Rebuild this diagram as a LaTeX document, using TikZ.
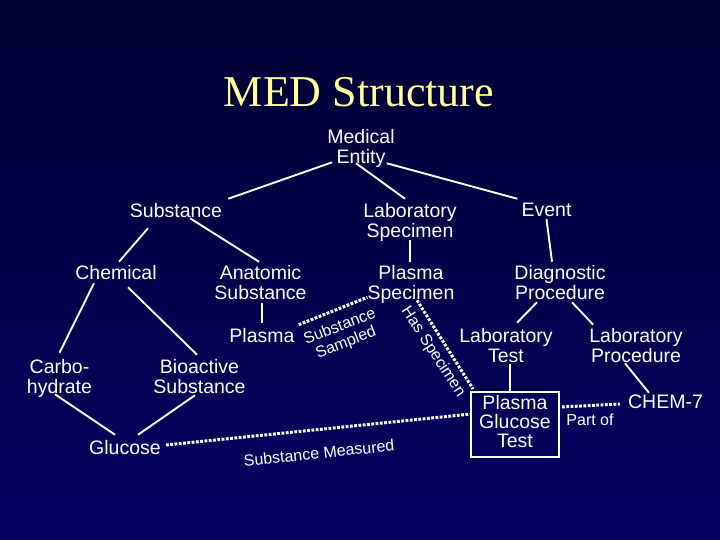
\documentclass[tikz,border=0pt]{standalone}
\usepackage{fontspec}
\setmainfont{Liberation Sans}
\newfontfamily\ttlfont{Liberation Serif}
\usetikzlibrary{calc}
\definecolor{bgtop}{RGB}{0,0,48}
\definecolor{bgbot}{RGB}{6,2,100}
\definecolor{ttlyellow}{RGB}{255,255,153}
\newcommand\msz{\fontsize{19.5}{20}\selectfont}
\newcommand\esz{\fontsize{16}{17}\selectfont}
\begin{document}
\begin{tikzpicture}[x=1pt,y=-1pt,
  lbl/.style={font=\msz, text=white, inner sep=0pt, align=center,
    execute at begin node={\strut}, execute at end node={\strut}},
  elbl/.style={font=\esz, text=white, inner sep=0pt, align=center},
  conn/.style={draw=white, line width=1.9pt},
  rel/.style={draw=white, line width=3pt, dash pattern=on 2.8pt off 1.5pt},
]
\useasboundingbox (0,0) rectangle (720,540);
\shade[top color=bgtop, bottom color=bgbot] (0,0) rectangle (720,540);

\node[font={\ttlfont\fontsize{44}{44}\selectfont}, text=ttlyellow, anchor=base, inner sep=0pt] (title) at (359,107) {MED Structure};

\node[lbl] (me) at (361,149) {Medical\\Entity};
\node[lbl] (sub) at (176,213) {Substance};
\node[lbl] (ls) at (410,223) {Laboratory\\Specimen};
\node[lbl] (ev) at (546.5,213) {Event};
\node[lbl] (ch) at (116,275) {Chemical};
\node[lbl] (an) at (260.5,285) {Anatomic\\Substance};
\node[lbl] (ps) at (411,285) {Plasma\\Specimen};
\node[lbl] (dp) at (560,285) {Diagnostic\\Procedure};
\node[lbl] (pl) at (262,338) {Plasma};
\node[lbl] (ca) at (59.5,379) {Carbo-\\hydrate};
\node[lbl] (bi) at (199.5,379) {Bioactive\\Substance};
\node[lbl] (lt) at (506,348) {Laboratory\\Test};
\node[lbl] (lp) at (636,348) {Laboratory\\Procedure};
\node[lbl] (gl) at (125,450) {Glucose};
\node[lbl, font=\fontsize{19.5}{19}\selectfont, draw=white, line width=1.9pt,
  minimum width=88pt, minimum height=65pt] (pgt) at (515,424.5) {Plasma\\Glucose\\Test};
\node[lbl] (chem) at (665.5,404) {CHEM-7};

\draw[conn] ($(me.south west)+(5,-7)$) -- ($(sub.north east)+(6,-4)$);
\draw[conn] ($(me.south)+(-5,-6)$) -- ($(ls.north)+(-5,-4)$);
\draw[conn] ($(me.south east)+(-8,-6)$) -- ($(ev.north west)+(-4,-4)$);
\draw[conn] ($(sub.south)+(-28,5)$) -- ($(ch.north)+(3,-3)$);
\draw[conn] ($(sub.south)+(14,-5)$) -- ($(an.north)+(-1.5,-3)$);
\draw[conn] ($(ls.south)+(0,-3)$) -- ($(ps.north)+(-1,-3)$);
\draw[conn] ($(ev.south)+(0,-4)$) -- ($(dp.north)+(-8,-3)$);
\draw[conn] ($(ch.south)+(-22,-2)$) -- ($(ca.north)+(0,-6)$);
\draw[conn] ($(ch.south)+(12,2)$) -- ($(bi.north)+(-2.5,-4)$);
\draw[conn] ($(an.south)+(1.5,-2)$) -- ($(pl.north)+(0,-5)$);
\draw[conn] ($(ca.south)+(-4.5,-5)$) -- ($(gl.north)+(-10,-5)$);
\draw[conn] ($(bi.south)+(-4.5,-4)$) -- ($(gl.north)+(13,-5)$);
\draw[conn] ($(dp.south)+(-23,-3)$) -- ($(lt.north)+(11,-5)$);
\draw[conn] ($(dp.south)+(12,-3)$) -- ($(lp.north west)+(4,-3)$);
\draw[conn] ($(lt.south)+(4,-4)$) -- ($(pgt.north)+(-5,0)$);
\draw[conn] ($(lp.south)+(-11,-5)$) -- ($(chem.north)+(-16.5,-1)$);

\draw[rel] ($(pl.north east)+(4,-3)$) -- ($(ps.south west)+(0,-8)$);
\draw[rel] ($(ps.south)+(6,-5)$) -- ($(pgt.north west)+(3,-2)$);
\draw[rel] ($(gl.east)+(5,-5)$) -- ($(pgt.west)+(1,-10.5)$);
\draw[rel] ($(pgt.east)+(2,-17.5)$) -- ($(chem.west)+(-8,0)$);

\node[elbl, rotate=21] (ssl) at (343,335) {Substance\\Sampled};
\node[elbl, rotate=-57] (hsl) at (433,352) {Has Specimen};
\node[elbl, rotate=6] (sml) at (319,453) {Substance Measured};
\node[elbl, anchor=base] (pol) at (590,425) {Part of};
\end{tikzpicture}
\end{document}
